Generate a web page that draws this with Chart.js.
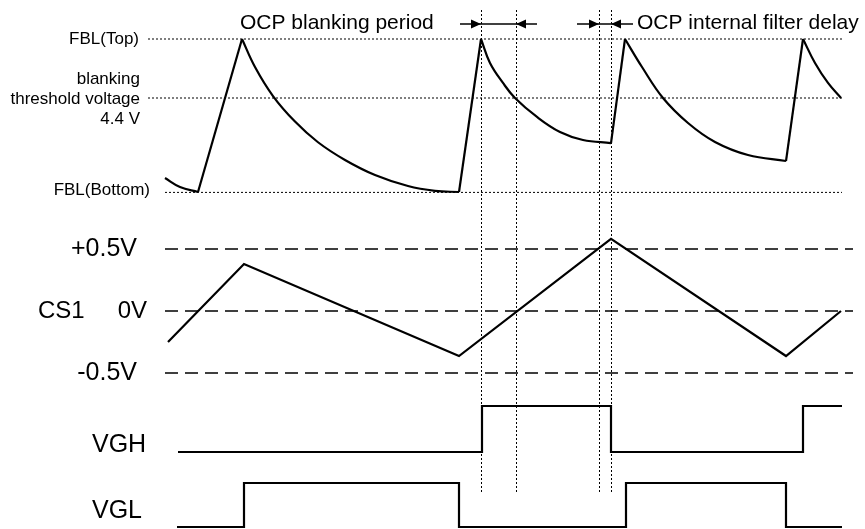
<!DOCTYPE html>
<html>
<head>
<meta charset="utf-8">
<script src="https://cdn.jsdelivr.net/npm/chart.js@4/dist/chart.umd.min.js"></script>
<style>
  body { margin: 0; background: #fff; }
  canvas { display: block; }
</style>
</head>
<body>
<canvas id="timing" width="865" height="529"></canvas>
<script>
// FB pin voltage (V) vs time
const fblTop = 5.0;
const fblThreshold = 4.4;
const fblBottom = 3.44;
const fbStart = [[165, 3.586], [180, 3.495], [198, 3.444]];
const fbRises = [
  [[198, 3.444], [242, 5.0]],
  [[459, 3.444], [481, 5.0]],
  [[611, 3.942], [625, 5.0]],
  [[786, 3.759], [803, 5.0]]
];
const fbDecays = [
  [[242, 5.0], [255, 4.715], [273, 4.42], [295, 4.16], [318, 3.95], [345, 3.77], [375, 3.617], [408, 3.505], [435, 3.456], [459, 3.444]],
  [[481, 5.0], [490, 4.756], [503, 4.553], [515, 4.4], [537, 4.207], [560, 4.054], [583, 3.973], [611, 3.942]],
  [[625, 5.0], [642, 4.715], [663, 4.4], [688, 4.146], [715, 3.953], [748, 3.82], [786, 3.759]],
  [[803, 5.0], [815, 4.756], [828, 4.553], [841, 4.4]]
];

// CS1 current sense voltage (V)
const csLevels = [0.5, 0, -0.5];
const csLabels = ['+0.5V', '0V', '-0.5V'];
const cs1 = [[168, -0.25], [244, 0.379], [459, -0.363], [611, 0.581], [786, -0.363], [841, 0]];

// gate drive logic levels (0 = low, 1 = high), value holds until next point
const vgh = [[178, 0], [482, 1], [611, 0], [803, 1], [842, 1]];
const vgl = [[177, 0], [244, 1], [459, 0], [626, 1], [786, 0], [842, 0]];

// marker times: blanking start/end, filter delay start/end
const markers = [481, 516, 599, 611];

const W = 865, H = 529;
const FONT = '"Liberation Sans", Arial, sans-serif';

// map a value range onto a pixel band of the full-height chart area
function band(topPx, botPx, vTop, vBot) {
  const k = (vTop - vBot) / (botPx - topPx);
  const max = vTop + topPx * k;
  return { min: max - H * k, max: max };
}

function ds(points, yAxisID, extra) {
  return Object.assign({
    data: points.map(p => ({ x: p[0], y: p[1] })),
    yAxisID: yAxisID,
    borderColor: '#000',
    borderWidth: 2.2,
    pointRadius: 0,
    tension: 0,
    fill: false,
    clip: false
  }, extra || {});
}

const dotted = { borderWidth: 1, borderDash: [2, 2] };
const dashed = { borderWidth: 1.3, borderDash: [13, 7] };
const smooth = { tension: 0.4 };

const datasets = [
  ds([[148, fblTop], [842, fblTop]], 'yFB', dotted),
  ds([[148, fblThreshold], [842, fblThreshold]], 'yFB', dotted),
  ds([[165, fblBottom], [842, fblBottom]], 'yFB', dotted),
  ...csLevels.map(v => ds([[165, v], [853, v]], 'yCS', dashed)),
  ds(fbStart, 'yFB', smooth),
  ...fbRises.map(r => ds(r, 'yFB')),
  ...fbDecays.map(d => ds(d, 'yFB', smooth)),
  ds(cs1, 'yCS'),
  ds(vgh, 'yVGH', { stepped: 'before' }),
  ds(vgl, 'yVGL', { stepped: 'before' })
];

function head(ctx, x, y, dir) {
  ctx.beginPath();
  ctx.moveTo(x, y);
  ctx.lineTo(x - dir * 10, y - 4.5);
  ctx.lineTo(x - dir * 10, y + 4.5);
  ctx.closePath();
  ctx.fill();
}

// "->|----|<-" dimension arrow between two marker pixels
function span(ctx, a, b, y, tail) {
  ctx.beginPath();
  ctx.moveTo(a - tail, y);
  ctx.lineTo(b + tail, y);
  ctx.lineWidth = 1.5;
  ctx.stroke();
  head(ctx, a, y, 1);
  head(ctx, b, y, -1);
}

const annotations = {
  id: 'annotations',
  afterDatasetsDraw(chart) {
    const ctx = chart.ctx;
    const x = chart.scales.x, fb = chart.scales.yFB, cs = chart.scales.yCS;
    const gh = chart.scales.yVGH, gl = chart.scales.yVGL;
    ctx.save();
    ctx.strokeStyle = '#000';
    ctx.fillStyle = '#000';

    // vertical timing markers
    ctx.lineWidth = 1;
    ctx.setLineDash([2, 2]);
    markers.forEach(t => {
      const px = Math.round(x.getPixelForValue(t)) + 0.5;
      ctx.beginPath();
      ctx.moveTo(px, 10);
      ctx.lineTo(px, gl.getPixelForValue(1) + 9);
      ctx.stroke();
    });
    ctx.setLineDash([]);

    // arrows
    const m = markers.map(t => x.getPixelForValue(t));
    span(ctx, m[0], m[1], 24, 21);
    span(ctx, m[2], m[3], 24, 22);

    // titles
    ctx.textBaseline = 'alphabetic';
    ctx.font = '21px ' + FONT;
    ctx.textAlign = 'left';
    ctx.fillText('OCP blanking period', 240, 29);
    ctx.fillText('OCP internal filter delay', 637, 29);

    // FB labels
    ctx.font = '17px ' + FONT;
    ctx.textAlign = 'right';
    ctx.textBaseline = 'middle';
    ctx.fillText('FBL(Top)', 139, fb.getPixelForValue(fblTop));
    const ty = fb.getPixelForValue(fblThreshold);
    ctx.fillText('blanking', 140, ty - 19);
    ctx.fillText('threshold voltage', 140, ty + 1);
    ctx.fillText('4.4 V', 140, ty + 21);
    ctx.fillText('FBL(Bottom)', 150, fb.getPixelForValue(fblBottom) - 2);

    // CS1 labels
    ctx.font = '25px ' + FONT;
    ctx.fillText(csLabels[0], 137, cs.getPixelForValue(csLevels[0]));
    ctx.fillText(csLabels[2], 137, cs.getPixelForValue(csLevels[2]));
    ctx.font = '24px ' + FONT;
    ctx.fillText(csLabels[1], 147, cs.getPixelForValue(csLevels[1]));
    ctx.textAlign = 'left';
    ctx.fillText('CS1', 38, cs.getPixelForValue(0));

    // gate labels
    ctx.font = '25px ' + FONT;
    ctx.fillText('VGH', 92, gh.getPixelForValue(0.15));
    ctx.fillText('VGL', 92, gl.getPixelForValue(0.36));
    ctx.restore();
  }
};

const hidden = { display: false, type: 'linear', axis: 'y' };

new Chart(document.getElementById('timing').getContext('2d'), {
  type: 'line',
  data: { datasets: datasets },
  options: {
    responsive: false,
    animation: false,
    layout: { padding: 0 },
    plugins: { legend: { display: false }, tooltip: { enabled: false } },
    scales: {
      x: { type: 'linear', min: 0, max: W, display: false },
      yFB: Object.assign({}, hidden, band(39, 98, fblTop, fblThreshold)),
      yCS: Object.assign({}, hidden, band(249, 373, 0.5, -0.5)),
      yVGH: Object.assign({}, hidden, band(406, 452, 1, 0)),
      yVGL: Object.assign({}, hidden, band(483, 527, 1, 0))
    }
  },
  plugins: [annotations]
});
</script>
</body>
</html>
